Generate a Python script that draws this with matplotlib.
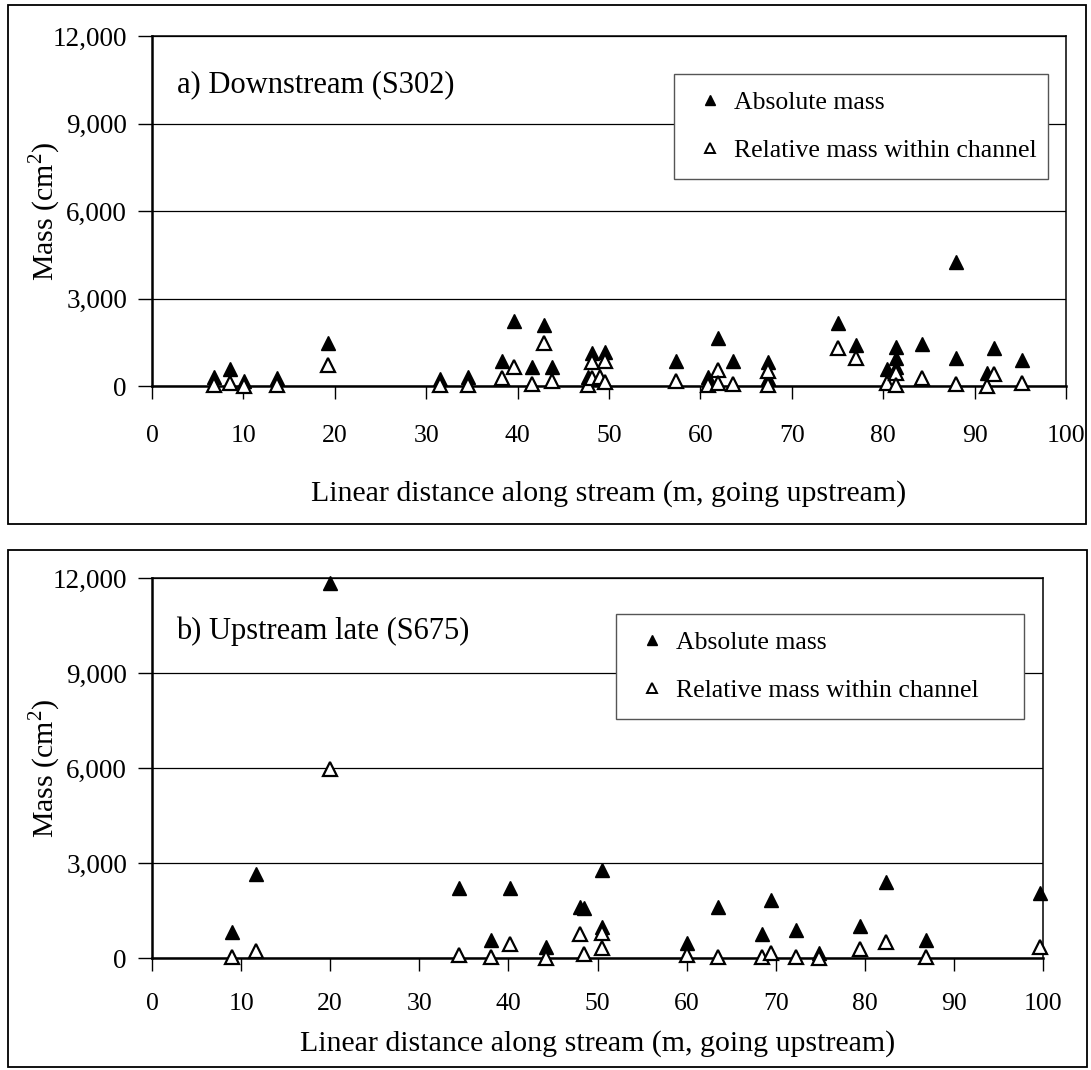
import numpy as np
import matplotlib.pyplot as plt
from matplotlib.patches import Rectangle
from matplotlib.lines import Line2D
from matplotlib.ticker import FuncFormatter, MultipleLocator

plt.rcParams['font.family'] = ['Liberation Serif', 'DejaVu Serif']
plt.rcParams['mathtext.fontset'] = 'custom'
plt.rcParams['mathtext.rm'] = 'Liberation Serif'

# a) Downstream (S302)
a_abs_x = [6.8, 8.5, 10.1, 13.7, 19.3, 31.5, 34.6, 38.3, 39.6, 41.6, 42.9, 43.8,
           47.7, 48.1, 49.6, 57.3, 60.8, 61.9, 63.6, 67.4, 67.4, 75.0, 77.0, 80.4,
           81.4, 81.4, 81.4, 84.2, 88.0, 88.0, 91.4, 92.1, 95.2]
a_abs_y = [320, 600, 180, 260, 1490, 240, 320, 860, 2240, 660, 2090, 660,
           320, 1120, 1180, 870, 320, 1630, 870, 810, 260, 2170, 1405, 600,
           1350, 950, 660, 1430, 4260, 950, 460, 1290, 890]
a_rel_x = [6.8, 8.5, 10.1, 13.7, 19.3, 31.5, 34.6, 38.3, 39.6, 41.6, 42.9, 43.8,
           47.7, 48.1, 48.1, 49.0, 49.6, 49.6, 57.3, 60.8, 61.9, 61.9, 63.6, 67.4,
           67.4, 75.0, 77.0, 80.4, 81.4, 81.4, 84.2, 88.0, 91.4, 92.1, 95.2]
a_rel_y = [30, 115, 0, 30, 720, 20, 30, 260, 660, 70, 1490, 180,
           30, 830, 260, 320, 870, 150, 180, 30, 550, 115, 60, 530,
           30, 1290, 950, 115, 430, 30, 260, 70, 0, 410, 115]

# b) Upstream late (S675)
b_x = [9.0, 11.7, 20.0, 34.4, 38.1, 40.2, 44.2, 48.0, 48.5, 50.5, 50.5,
       60.1, 63.5, 68.5, 69.5, 72.3, 74.9, 79.5, 82.4, 86.9, 99.7]
b_abs_y = [810, 2650, 11850, 2200, 570, 2200, 360, 1620, 1570, 2780, 990,
           460, 1620, 750, 1830, 880, 170, 1010, 2410, 570, 2040]
b_rel_y = [40, 230, 5960, 95, 40, 430, 0, 750, 115, 800, 330,
           95, 40, 40, 170, 40, 0, 300, 520, 40, 360]

labels = ['Absolute mass', 'Relative mass within channel']
yticks = [0, 3000, 6000, 9000, 12000]

W, H = 1091, 1070
fig = plt.figure(figsize=(W / 100, H / 100), dpi=100)


def px_axes(left, top, right, bottom):
    return fig.add_axes([left / W, 1 - bottom / H, (right - left) / W, (bottom - top) / H])


def draw_panel(ax, xa, ya, xr, yr, title, leg_anchor, xpad, xlab_y, ylab_x):
    ax.plot(xa, ya, ls='none', marker='^', ms=9.5, mfc='black', mec='black',
            mew=1, clip_on=False, zorder=3)
    ax.plot(xr, yr, ls='none', marker='^', ms=9.5, mfc='white', mec='black',
            mew=1.6, clip_on=False, zorder=4)

    ax.set_xlim(0, 100)
    ax.set_ylim(0, 12000)
    ax.xaxis.set_major_locator(MultipleLocator(10))
    ax.set_yticks(yticks)
    ax.yaxis.set_major_formatter(FuncFormatter(lambda v, p: f'{int(v):,}'))
    ax.tick_params(axis='x', direction='out', length=9, width=1, pad=xpad, labelsize=18.5)
    ax.tick_params(axis='y', direction='out', length=10, width=1, pad=8, labelsize=19.5)
    ax.yaxis.grid(True, color='black', lw=0.9)
    ax.set_axisbelow(True)
    for s in ['left', 'bottom']:
        ax.spines[s].set_linewidth(1.8)
    for s in ['top', 'right']:
        ax.spines[s].set_linewidth(1.1)

    ax.text(0.027, 0.86, title, transform=ax.transAxes, fontsize=22, va='center')

    ax.set_xlabel('Linear distance along stream (m, going upstream)', fontsize=21.5)
    ax.xaxis.set_label_coords(0.5, xlab_y)
    ax.set_ylabel('Mass (cm$^{2}$)', fontsize=21.5)
    ax.yaxis.set_label_coords(ylab_x, 0.5)

    handles = [
        Line2D([], [], ls='none', marker='^', ms=7.5, mfc='black', mec='black'),
        Line2D([], [], ls='none', marker='^', ms=7.5, mfc='white', mec='black', mew=1.4),
    ]
    leg = ax.legend(handles, labels, loc='upper left', bbox_to_anchor=leg_anchor,
                    mode='expand', fontsize=18.5, frameon=True, fancybox=False,
                    framealpha=1, edgecolor='#555555', borderpad=0.65,
                    labelspacing=1.0, handlelength=1.5, handletextpad=0.2,
                    borderaxespad=0)
    leg.get_frame().set_linewidth(1.0)


ax_a = px_axes(152, 36, 1066, 386)
draw_panel(ax_a, a_abs_x, a_abs_y, a_rel_x, a_rel_y, 'a) Downstream (S302)',
           ((674 - 152) / 914, (386 - 74) / 350, (1048 - 674) / 914, 0),
           xpad=19, xlab_y=-0.27, ylab_x=-0.097)

ax_b = px_axes(152, 578, 1043, 958)
draw_panel(ax_b, b_x, b_abs_y, b_x, b_rel_y, 'b) Upstream late (S675)',
           ((616 - 152) / 891, (958 - 614) / 380, (1024 - 616) / 891, 0),
           xpad=16, xlab_y=-0.19, ylab_x=-0.100)

# chart area borders
fig.add_artist(Rectangle((8 / W, 1 - 524 / H), (1086 - 8) / W, (524 - 5) / H,
                         transform=fig.transFigure, fill=False, lw=1.3, ec='black'))
fig.add_artist(Rectangle((8 / W, 1 - 1067 / H), (1087 - 8) / W, (1067 - 550) / H,
                         transform=fig.transFigure, fill=False, lw=1.3, ec='black'))

fig.savefig('out.png', dpi=100, facecolor='white')
